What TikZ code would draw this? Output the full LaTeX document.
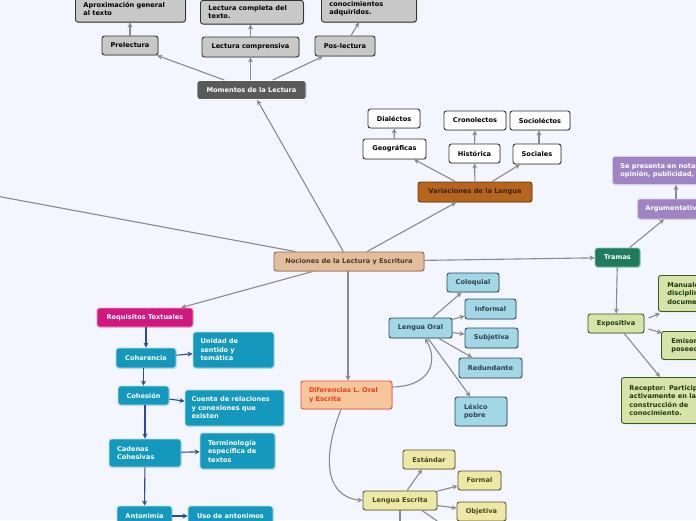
\documentclass[tikz,border=0pt]{standalone}
\usepackage{fontspec}
\setmainfont{DejaVu Sans}
\usetikzlibrary{arrows.meta,shadows}
\definecolor{bg}{HTML}{F3F6FE}
\definecolor{conn}{HTML}{8A8A8A}
\definecolor{navy}{HTML}{2C4C8A}
\definecolor{grayfill}{HTML}{C8C8C8}
\definecolor{momfill}{HTML}{5A5A5A}
\definecolor{brownfill}{HTML}{B5651D}
\definecolor{brownline}{HTML}{6B3A10}
\definecolor{browntext}{HTML}{3E2208}
\definecolor{nocfill}{HTML}{E3BE9C}
\definecolor{nocline}{HTML}{8B6B4B}
\definecolor{noctext}{HTML}{4A3A2A}
\definecolor{tramfill}{HTML}{1F7A5E}
\definecolor{tramline}{HTML}{7FD0B0}
\definecolor{purfill}{HTML}{9F84C4}
\definecolor{purline}{HTML}{D8CCEE}
\definecolor{grfill}{HTML}{D6E3A9}
\definecolor{grline}{HTML}{3A5A20}
\definecolor{grtext}{HTML}{1F3A10}
\definecolor{magfill}{HTML}{D2177F}
\definecolor{magline}{HTML}{F0A0C8}
\definecolor{tealfill}{HTML}{1598BD}
\definecolor{tealline}{HTML}{B8E4F0}
\definecolor{diffill}{HTML}{F6C59C}
\definecolor{difline}{HTML}{E8512B}
\definecolor{diftext}{HTML}{E5411B}
\definecolor{lbfill}{HTML}{A2D7E5}
\definecolor{lbline}{HTML}{2F4B5A}
\definecolor{lbtext}{HTML}{2F4050}
\definecolor{yfill}{HTML}{EEE8A6}
\definecolor{yline}{HTML}{5C5631}
\definecolor{ytext}{HTML}{4A4520}
\tikzset{
  box/.style={draw, rounded corners=2.5pt, line width=0.9pt, inner sep=0pt,
    font=\bfseries\fontsize{6.6}{8.5}\selectfont, align=center,
    drop shadow={shadow xshift=0.8pt, shadow yshift=-0.8pt, opacity=0.25}},
  ml/.style={align=left, inner xsep=8pt, inner ysep=4pt},
  graybox/.style={box, fill=grayfill, draw=black!80, text=black},
  whitebox/.style={box, fill=white, draw=black!80, text=black},
  mombox/.style={box, fill=momfill, draw=white, text=white},
  brownbox/.style={box, fill=brownfill, draw=brownline, text=browntext},
  nocbox/.style={box, fill=nocfill, draw=nocline, text=noctext},
  trambox/.style={box, fill=tramfill, draw=tramline, text=white},
  purbox/.style={box, fill=purfill, draw=purline, text=white},
  grbox/.style={box, fill=grfill, draw=grline, text=grtext},
  magbox/.style={box, fill=magfill, draw=magline, text=white},
  tealbox/.style={box, fill=tealfill, draw=tealline, text=white},
  difbox/.style={box, fill=diffill, draw=difline, text=diftext},
  lbbox/.style={box, fill=lbfill, draw=lbline, text=lbtext},
  ybox/.style={box, fill=yfill, draw=yline, text=ytext},
  arr/.style={draw=conn, line width=1.1pt, -{Stealth[length=5pt,width=5pt]}},
  plain/.style={draw=conn, line width=1.1pt},
  barr/.style={draw=navy, line width=1.1pt, -{Stealth[length=5pt,width=5pt]}},
}
\begin{document}
\begin{tikzpicture}[x=1pt,y=-1pt]
\fill[bg] (0,0) rectangle (696,520);
\useasboundingbox (0,0) rectangle (696,520);

% ---- Momentos de la Lectura branch
\node[graybox, ml, text width=94pt, inner ysep=6pt, anchor=south west] (aprox) at (75,22.5) {Aproximación general\\al texto};
\node[graybox, ml, text width=87pt, inner ysep=5pt, anchor=south west] (compl) at (200,24.5) {Lectura completa del\\texto.};
\node[graybox, ml, text width=79pt, inner ysep=6pt, anchor=south west] (conoc) at (321,22.5) {conocimientos\\adquiridos.};
\node[graybox, minimum width=56pt, minimum height=19pt] (pre) at (130,45.5) {Prelectura};
\node[graybox, minimum width=97pt, minimum height=20pt] (comp) at (250.5,47) {Lectura comprensiva};
\node[graybox, minimum width=60pt, minimum height=20pt] (pos) at (345,46) {Pos-lectura};
\node[mombox, minimum width=109pt, minimum height=19pt] (mom) at (251.5,90) {Momentos de la Lectura};

\draw[arr] (mom) -- (pre);
\draw[arr] (mom.north -| comp) -- (comp);
\draw[arr] (mom) -- (pos);
\draw[arr] (pre) -- (pre |- aprox.south);
\draw[arr] (comp) -- (comp |- compl.south);
\draw[arr] (pos.north) ++(6,0) -- ([xshift=-10pt]conoc.south);

% ---- Variaciones de la Lengua branch
\node[whitebox, minimum width=52pt, minimum height=19pt] (dia) at (394,118.5) {Dialéctos};
\node[whitebox, minimum width=62pt, minimum height=19pt] (cro) at (475,120.5) {Cronolectos};
\node[whitebox, minimum width=60pt, minimum height=19pt] (soc) at (540,120.5) {Socioléctos};
\node[whitebox, minimum width=63pt, minimum height=20pt] (geo) at (394.5,149) {Geográficas};
\node[whitebox, minimum width=51pt, minimum height=19pt] (his) at (474.5,153.5) {Histórica};
\node[whitebox, minimum width=48pt, minimum height=20pt] (sos) at (537,154) {Sociales};
\node[brownbox, minimum width=114pt, minimum height=20pt] (var) at (475,192) {Variaciones de la Lengua};

\draw[arr] (var) -- (geo);
\draw[arr] (var) -- (his);
\draw[arr] (var) -- (sos);
\draw[arr] (geo) -- (dia);
\draw[arr] (his) -- (cro);
\draw[arr] (sos.north) ++(2,0) -- ([xshift=-1pt]soc.south);

% ---- Centre
\node[nocbox, minimum width=150pt, minimum height=19pt] (noc) at (349,261.5) {Nociones de la Lectura y Escritura};
\coordinate (offL) at (-20,193);
\draw[plain] (noc) -- (offL);
\draw[arr] (noc) -- (mom);
\draw[arr] (noc) -- (var);

% ---- Tramas branch
\node[purbox, ml, text width=150pt, minimum height=28pt, inner ysep=4pt, anchor=north west] (sep) at (612,156) {Se presenta en notas de\\opinión, publicidad, etc.};
\node[purbox, anchor=west, inner xsep=8pt, minimum height=20pt] (arg) at (637,209) {Argumentativa};
\node[trambox, minimum width=45pt, minimum height=19pt] (tram) at (617.5,257.5) {Tramas};
\node[grbox, minimum width=56pt, minimum height=19pt] (expo) at (616,323.5) {Expositiva};
\node[grbox, ml, text width=80pt, minimum height=36pt, anchor=north west, inner xsep=9pt] (man) at (658,275) {Manuales de\\disciplinas,\\documentos};
\node[grbox, ml, text width=90pt, minimum height=28pt, anchor=north west, inner xsep=10pt] (emi) at (661,331) {Emisor: es el\\poseedor del saber};
\node[grbox, ml, text width=110pt, minimum height=46pt, anchor=north west] (rec) at (621,377) {Receptor: Participa\\activamente en la\\construcción de\\conocimiento.};

\draw[arr] (noc) -- (tram);
\draw[arr] (tram) -- ([xshift=27pt]arg.south west);
\draw[arr] ([xshift=39pt]arg.north west) -- ([xshift=64pt]sep.south west);
\draw[arr] (tram) -- (expo);
\draw[arr] ([xshift=4pt,yshift=5.5pt]expo.east) -- ([xshift=2pt,yshift=-1.5pt]man.south west);
\draw[arr] ([xshift=4pt,yshift=-5.5pt]expo.east) -- ([xshift=1pt,yshift=-2pt]emi.north west);
\draw[arr] (expo) -- ([xshift=39pt]rec.north west);

% ---- Requisitos Textuales branch
\node[magbox, minimum width=96pt, minimum height=19pt] (req) at (145,317.5) {Requisitos Textuales};
\node[tealbox, minimum width=60pt, minimum height=20pt] (coh) at (146,358) {Coherencia};
\node[tealbox, ml, text width=66pt, minimum height=36pt, inner xsep=7.5pt] (uni) at (233.5,350) {Unidad de\\sentido y\\temática};
\node[tealbox, minimum width=51pt, minimum height=19pt] (ces) at (143.5,395.5) {Cohesión};
\node[tealbox, ml, text width=86pt, minimum height=36pt, inner xsep=6.5pt] (cue) at (234.5,408) {Cuenta de relaciones\\y conexiones que\\existen};
\node[tealbox, ml, text width=56pt, minimum height=28pt] (cad) at (145,453) {Cadenas\\Cohesivas};
\node[tealbox, ml, text width=59pt, minimum height=36pt] (ter) at (237.5,451) {Terminología\\específica de\\textos};
\node[tealbox, minimum width=55pt, minimum height=20pt] (ant) at (144.5,516) {Antonimia};
\node[tealbox, minimum width=85pt, minimum height=20pt] (uso) at (230.5,516) {Uso de antonimos};

\draw[arr] (noc) -- (req);
\draw[barr] (req.south -| coh) -- (coh);
\draw[barr] (coh) -- (uni);
\draw[barr] (coh.south -| ces) -- (ces);
\draw[barr] (ces) -- (cue);
\draw[barr] (ces.south -| cad) -- (cad);
\draw[barr] (cad) -- (ter);
\draw[barr] (cad) -- (ant);
\draw[barr] (ant) -- (uso);

% ---- Diferencias branch
\node[difbox, ml, text width=75pt, minimum height=28pt] (dif) at (346.5,395) {Diferencias L. Oral\\y Escrita};
\node[lbbox, minimum width=63pt, minimum height=20pt] (lo) at (420.5,328) {Lengua Oral};
\node[lbbox, minimum width=52pt, minimum height=19pt] (col) at (473,282.5) {Coloquial};
\node[lbbox, minimum width=51pt, minimum height=20pt] (inf) at (490.5,309) {Informal};
\node[lbbox, minimum width=53pt, minimum height=20pt] (sub) at (491.5,338) {Subjetiva};
\node[lbbox, minimum width=63pt, minimum height=20pt] (red) at (490.5,368) {Redundante};
\node[lbbox, ml, text width=34pt, minimum height=29pt, inner xsep=9pt] (lex) at (481,411.5) {Léxico\\pobre};
\node[ybox, minimum width=74pt, minimum height=19pt] (le) at (400,500.5) {Lengua Escrita};
\node[ybox, minimum width=52pt, minimum height=19pt] (est) at (429,459.5) {Estándar};
\node[ybox, minimum width=43pt, minimum height=19pt] (for) at (479.5,480.5) {Formal};
\node[ybox, minimum width=49pt, minimum height=19pt] (obj) at (481.5,511.5) {Objetiva};
\coordinate (offB1) at (400,530);
\coordinate (offB2) at (450,530);

\draw[arr] (noc.south -| 348,0) -- (dif.north -| 348,0);
\draw[arr] ([yshift=8pt]dif.east) .. controls (432,386) and (438,360) .. ([xshift=4.5pt]lo.south);
\draw[arr] ([xshift=-5.5pt]dif.south) .. controls (324,452) and (322,496) .. (le.west);
\draw[arr] (lo) -- (col);
\draw[arr] (lo) -- (inf);
\draw[arr] (lo) -- (sub);
\draw[arr] (lo) -- (red);
\draw[arr] (lo) -- (lex);
\draw[arr] (le) -- (est);
\draw[arr] (le) -- (for);
\draw[arr] (le) -- (obj);
\draw[plain] (le) -- (offB1);
\draw[plain] ([xshift=22pt]le.south) -- (offB2);
\end{tikzpicture}
\end{document}
